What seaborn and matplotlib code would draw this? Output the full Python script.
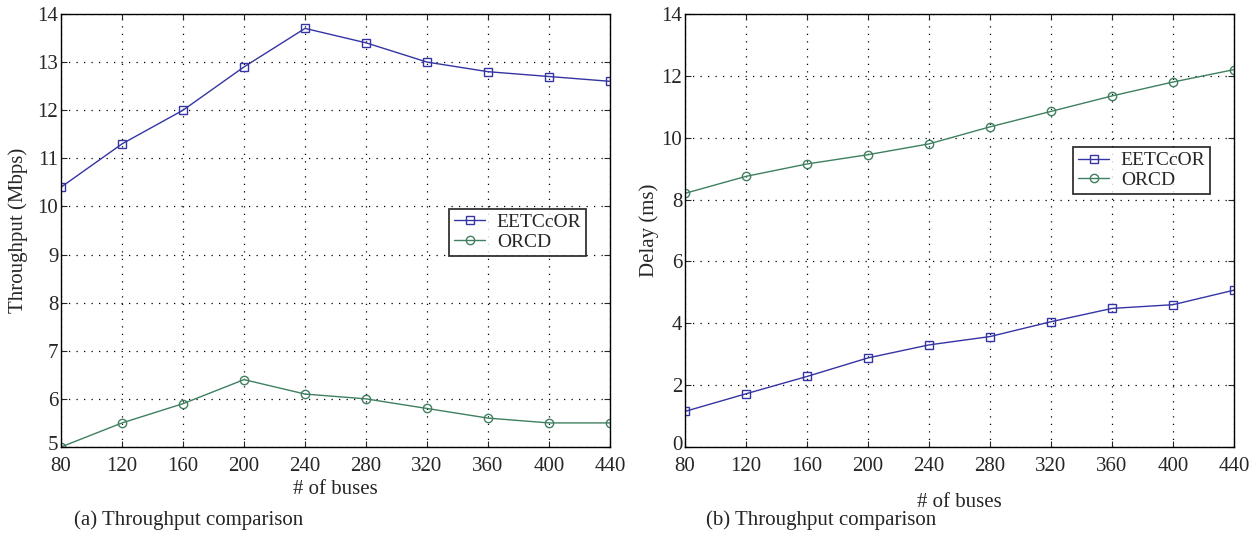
import matplotlib
matplotlib.use("Agg")
import matplotlib.pyplot as plt
import matplotlib.transforms as mtransforms
import pandas as pd
import seaborn as sns

# Data
buses = [80, 120, 160, 200, 240, 280, 320, 360, 400, 440]
thr_eetccor = [10.4, 11.3, 12.0, 12.9, 13.7, 13.4, 13.0, 12.8, 12.7, 12.6]
thr_orcd = [5.0, 5.5, 5.9, 6.4, 6.1, 6.0, 5.8, 5.6, 5.5, 5.5]
delay_eetccor = [1.15, 1.72, 2.28, 2.88, 3.3, 3.57, 4.05, 4.48, 4.6, 5.07]
delay_orcd = [8.2, 8.75, 9.15, 9.45, 9.8, 10.35, 10.85, 11.35, 11.8, 12.2]
methods = ["EETCcOR", "ORCD"]

sns.set_style("ticks")
plt.rcParams["font.family"] = ["Liberation Serif", "DejaVu Serif"]

palette = {"EETCcOR": "#3434a4", "ORCD": "#3f8060"}
markers = {"EETCcOR": "s", "ORCD": "o"}


def to_frame(a, b):
    return pd.DataFrame(
        {
            "buses": buses * 2,
            "value": a + b,
            "method": [methods[0]] * len(buses) + [methods[1]] * len(buses),
        }
    )


thr = to_frame(thr_eetccor, thr_orcd)
delay = to_frame(delay_eetccor, delay_orcd)

fig = plt.figure(figsize=(12.56, 5.33), dpi=100)
ax1 = fig.add_axes([0.0486, 0.1614, 0.4371, 0.8124])
ax2 = fig.add_axes([0.5454, 0.1614, 0.4371, 0.8124])


def draw(ax, df, ylim, yticks, ylabel, ylab_x, xlab_y, leg_anchor, caption, cap_x):
    sns.lineplot(
        data=df, x="buses", y="value", hue="method", style="method",
        markers=markers, dashes=False, palette=palette, ax=ax,
        markersize=6, markeredgewidth=1.0, linewidth=1.0,
    )
    # hollow markers edged in the line colour
    for line in ax.get_lines():
        line.set_markerfacecolor("none")
        line.set_markeredgecolor(line.get_color())
    ax.set_xlim(80, 440)
    ax.set_ylim(*ylim)
    ax.set_xticks(buses)
    ax.set_yticks(yticks)
    ax.tick_params(direction="in", top=True, right=True, labelsize=15,
                   length=4, width=0.8)
    ax.tick_params(axis="x", pad=7)
    ax.tick_params(axis="y", pad=2)
    # nudge the lowest y label up a bit so it clears the first x label
    low = ax.yaxis.get_major_ticks()[0].label1
    low.set_transform(low.get_transform() + mtransforms.ScaledTranslation(
        0, 3 / 72, fig.dpi_scale_trans))
    ax.grid(True, linestyle=(0, (1, 5)), color="black", linewidth=0.9)
    for s in ax.spines.values():
        s.set_linewidth(1.0)
        s.set_color("black")
    ax.set_xlabel("# of buses", fontsize=15, va="center")
    ax.xaxis.set_label_coords(0.5, xlab_y)
    ax.set_ylabel(ylabel, fontsize=15, va="center")
    ax.yaxis.set_label_coords(ylab_x, 0.5)
    leg = ax.legend(loc="upper left", bbox_to_anchor=leg_anchor, fontsize=14,
                    frameon=True, fancybox=False, edgecolor="black",
                    handlelength=1.6, borderpad=0.25, labelspacing=0.1,
                    handletextpad=0.6, borderaxespad=0)
    leg.get_frame().set_linewidth(1.3)
    for h in leg.legend_handles:
        h.set_markerfacecolor("none")
        h.set_markeredgecolor(h.get_color())
    fig.text(cap_x, 0.024, caption, fontsize=15, ha="left", va="center")


draw(ax1, thr, (5, 14), range(5, 15), "Throughput (Mbps)", -0.078, -0.099,
     (0.707, 0.550), "(a) Throughput comparison", 0.059)
draw(ax2, delay, (0, 14), range(0, 15, 2), "Delay (ms)", -0.066, -0.129,
     (0.707, 0.693), "(b) Throughput comparison", 0.562)

fig.savefig("out.png", dpi=100)
